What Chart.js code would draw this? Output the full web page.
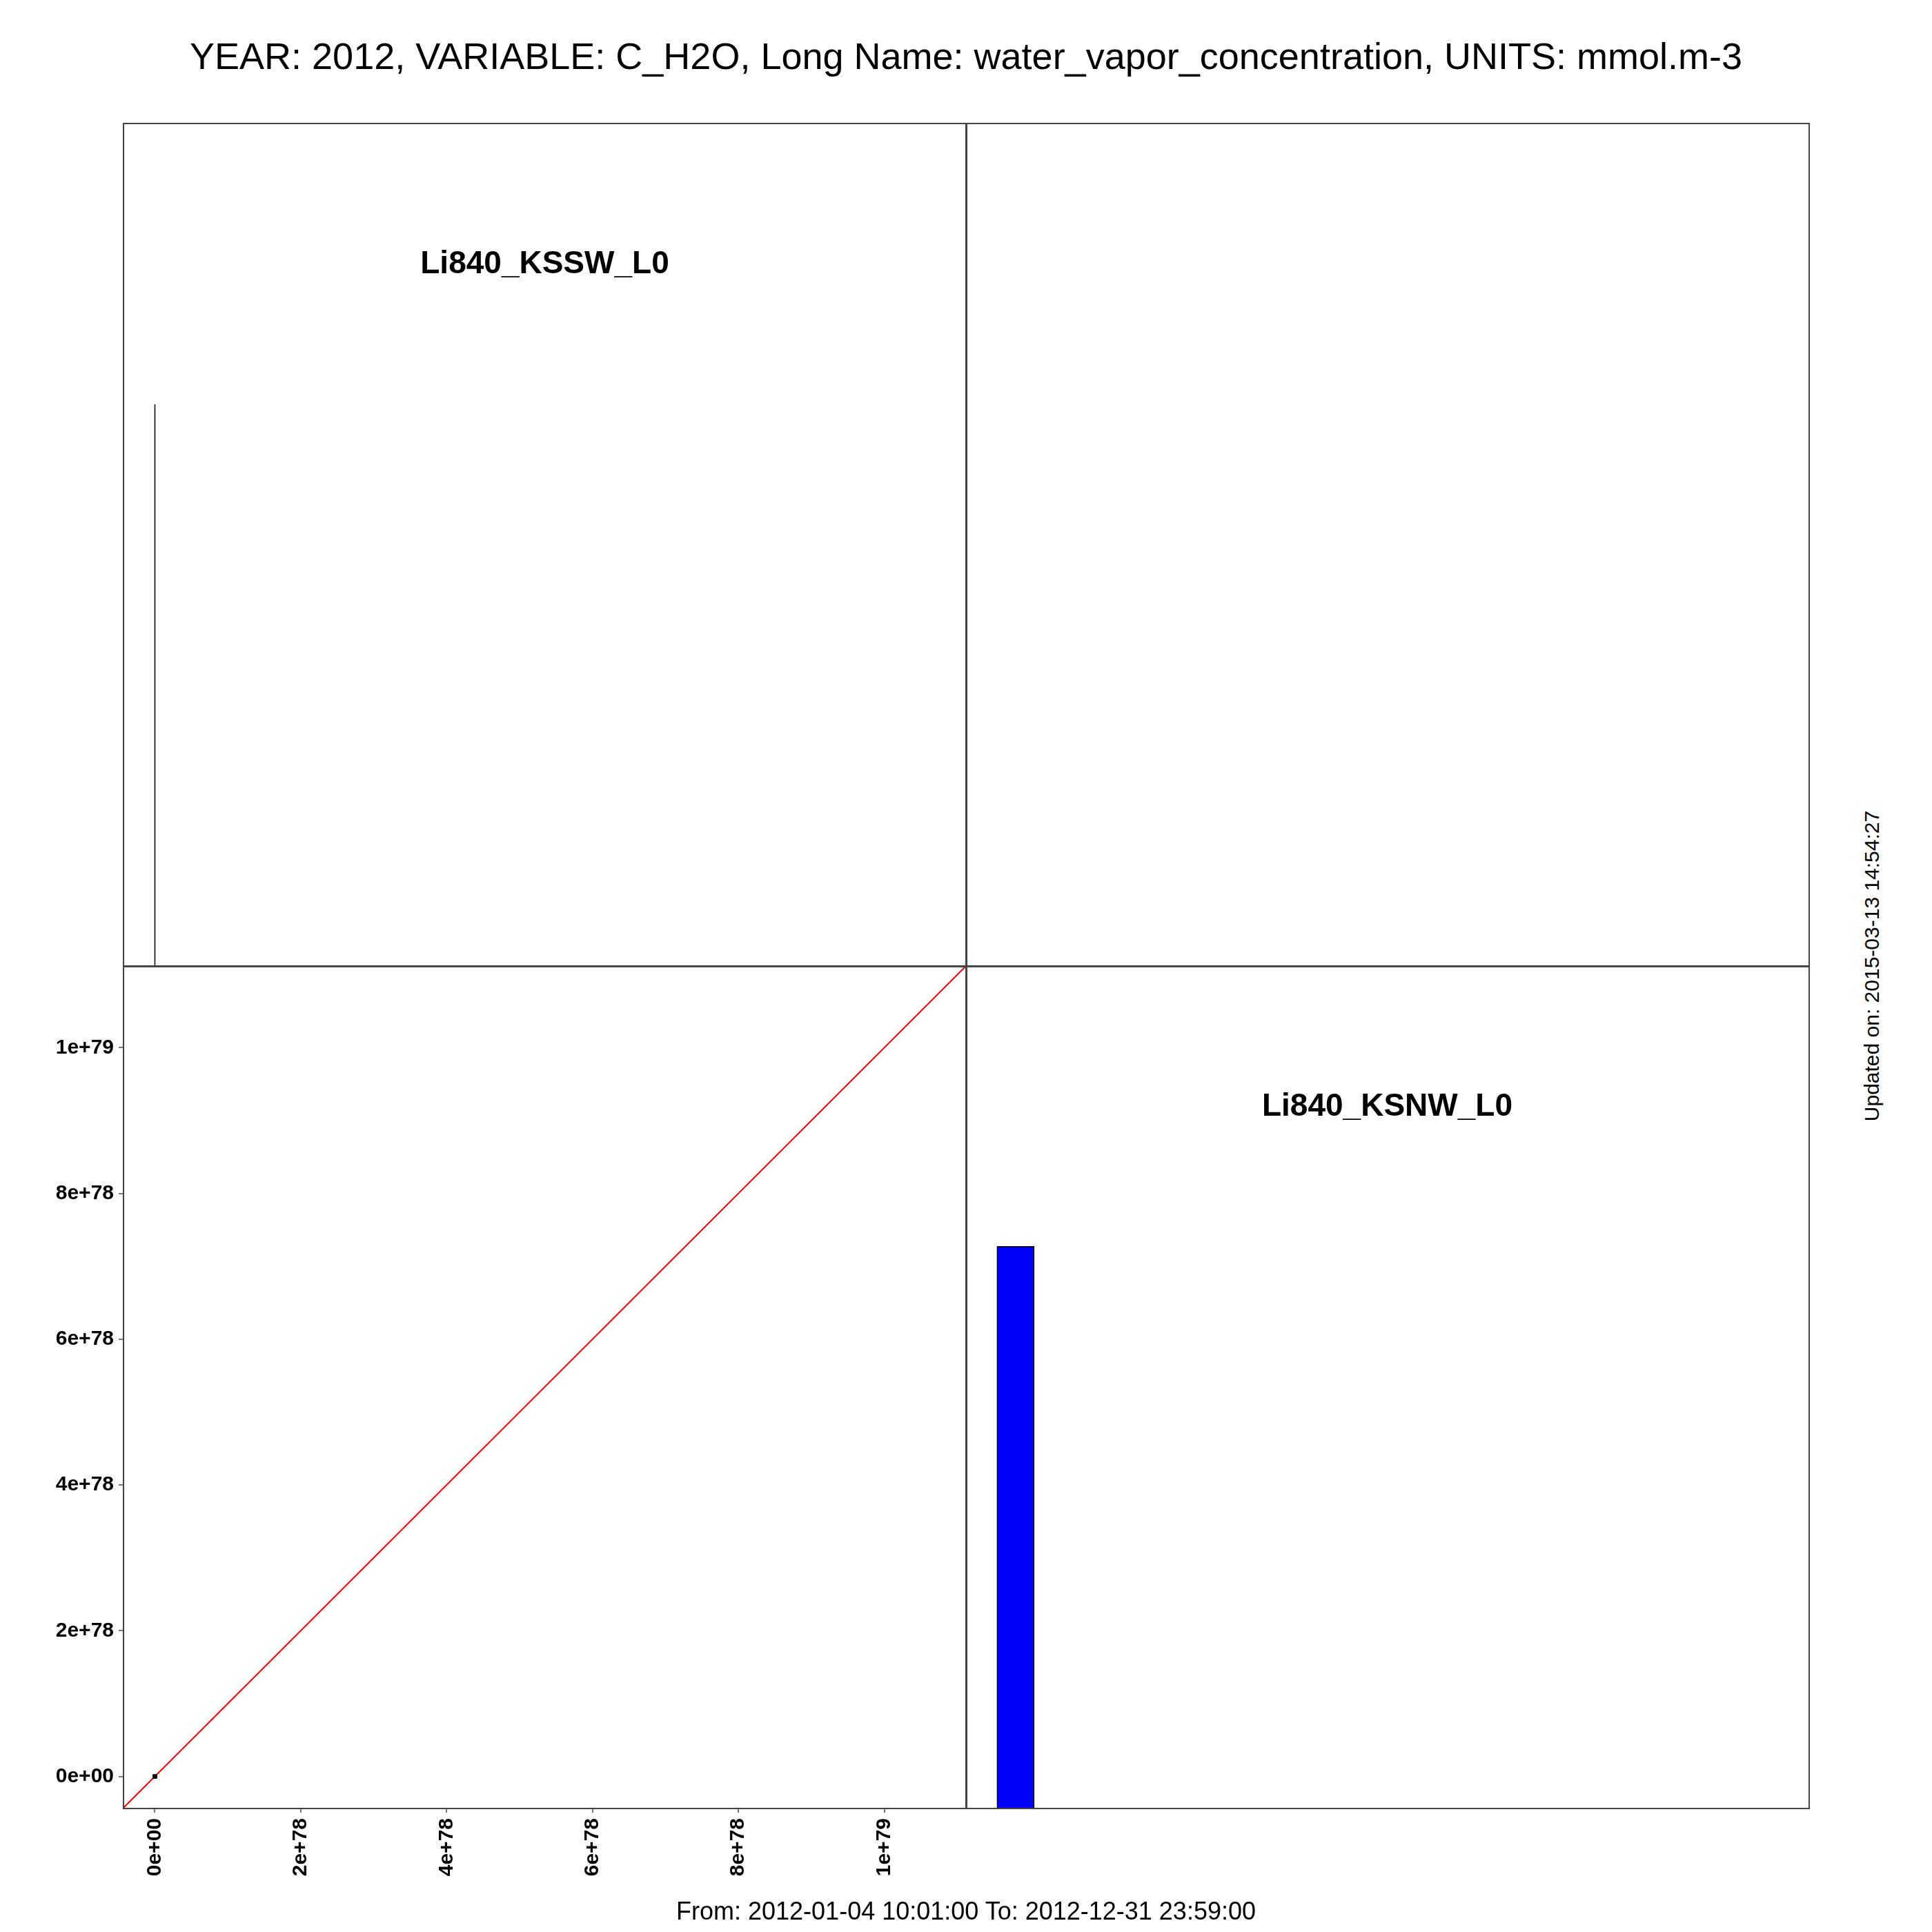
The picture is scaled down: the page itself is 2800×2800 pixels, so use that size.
<!DOCTYPE html>
<html>
<head>
<meta charset="utf-8">
<title>C_H2O 2012</title>
<script src="https://cdn.jsdelivr.net/npm/chart.js@4.4.1/dist/chart.umd.min.js"></script>
<style>
  html, body { margin: 0; padding: 0; background: #fff; }
  body { width: 2800px; height: 2800px; position: relative; overflow: hidden; font-family: "Liberation Sans", Arial, sans-serif; }
  canvas { position: absolute; }
  .frame { position: absolute; border: 2px solid #444; box-sizing: border-box; pointer-events: none; }
  .txt { position: absolute; white-space: nowrap; color: #000; line-height: 1; }
</style>
</head>
<body>

<div class="txt" style="left:0; width:2800px; top:54px; text-align:center; font-size:54px;">YEAR: 2012, VARIABLE: C_H2O, Long Name: water_vapor_concentration, UNITS: mmol.m-3</div>

<canvas id="panelTL" width="1221" height="1221" style="left:179px; top:179px;"></canvas>
<canvas id="panelBL" width="1400" height="1400" style="left:0px; top:1400px;"></canvas>
<canvas id="panelBR" width="1221" height="1220" style="left:1400px; top:1400px;"></canvas>

<div class="frame" style="left:178px; top:178px; width:1224px; height:1224px;"></div>
<div class="frame" style="left:1399px; top:178px; width:1224px; height:1224px;"></div>
<div class="frame" style="left:178px; top:1399px; width:1224px; height:1223px;"></div>
<div class="frame" style="left:1399px; top:1399px; width:1224px; height:1223px;"></div>

<div class="txt" style="left:179px; width:1221px; top:357px; text-align:center; font-size:46px; font-weight:bold;">Li840_KSSW_L0</div>
<div class="txt" style="left:1400px; width:1221px; top:1578px; text-align:center; font-size:46px; font-weight:bold;">Li840_KSNW_L0</div>

<div class="txt" style="left:0; width:2800px; top:2752px; text-align:center; font-size:36px;">From: 2012-01-04 10:01:00 To: 2012-12-31 23:59:00</div>
<div class="txt" style="left:2713px; top:1400px; font-size:30px; transform: translate(-50%, -50%) rotate(-90deg);">Updated on: 2015-03-13 14:54:27</div>

<script>
// scatter of the two instruments (only one valid pair)
const ksswValues = [0];
const ksnwValues = [0];

// 1:1 reference line, runs past both ends and gets clipped to the panel
const oneToOne = [-1e78, 1.2e79];

// axis ticks
const tickValues = [0, 2e78, 4e78, 6e78, 8e78, 1e79];
const tickLabels = ['0e+00', '2e+78', '4e+78', '6e+78', '8e+78', '1e+79'];

// histograms on the diagonal (bin edges, relative height)
const ksswBinEdges = [0, 0];
const ksswHeights = [1];
const ksnwBinEdges = [0, 5e77];
const ksnwHeights = [1];

const axisMin = -4.3e77;
const axisMax = 1.112e79;
const histMax = 1.5;

const fontFamily = '"Liberation Sans", Arial, sans-serif';

function histPath(edges, heights) {
    const pts = [];
    for (let i = 0; i < heights.length; i++) {
        pts.push({ x: edges[i], y: 0 });
        pts.push({ x: edges[i], y: heights[i] });
        pts.push({ x: edges[i + 1], y: heights[i] });
        pts.push({ x: edges[i + 1], y: 0 });
    }
    return pts;
}

function diagChart(id, edges, heights, fillColor) {
    const ctx = document.getElementById(id).getContext('2d');
    return new Chart(ctx, {
        type: 'line',
        data: {
            datasets: [{
                data: histPath(edges, heights),
                borderColor: '#000',
                borderWidth: 1.5,
                backgroundColor: fillColor,
                fill: fillColor ? 'origin' : false,
                pointRadius: 0,
                tension: 0
            }]
        },
        options: {
            responsive: false,
            animation: false,
            devicePixelRatio: 1,
            layout: { padding: 0, autoPadding: false },
            plugins: { legend: { display: false }, tooltip: { enabled: false } },
            scales: {
                x: { type: 'linear', min: axisMin, max: axisMax, display: false },
                y: { type: 'linear', min: 0, max: histMax, display: false }
            }
        }
    });
}

diagChart('panelTL', ksswBinEdges, ksswHeights, null);
diagChart('panelBR', ksnwBinEdges, ksnwHeights, '#0000ff');

const tickFont = { family: fontFamily, size: 30, weight: 'bold' };

new Chart(document.getElementById('panelBL').getContext('2d'), {
    type: 'scatter',
    data: {
        datasets: [
            {
                label: 'pairs',
                data: ksswValues.map((v, i) => ({ x: v, y: ksnwValues[i] })),
                pointStyle: 'rect',
                pointRadius: 4,
                backgroundColor: '#000',
                borderColor: '#000',
                order: 0
            },
            {
                label: '1:1',
                data: oneToOne.map(v => ({ x: v, y: v })),
                showLine: true,
                borderColor: '#ff0000',
                borderWidth: 2,
                pointRadius: 0,
                order: 1
            }
        ]
    },
    options: {
        responsive: false,
        animation: false,
        devicePixelRatio: 1,
        layout: { padding: 0, autoPadding: false },
        plugins: { legend: { display: false }, tooltip: { enabled: false } },
        scales: {
            x: {
                type: 'linear',
                position: 'bottom',
                min: axisMin,
                max: axisMax,
                afterBuildTicks: s => { s.ticks = tickValues.map(v => ({ value: v })); },
                afterFit: s => { s.height = 180; s.paddingLeft = 0; s.paddingRight = 0; },
                ticks: {
                    autoSkip: false,
                    minRotation: 90,
                    maxRotation: 90,
                    padding: 8,
                    color: '#000',
                    font: tickFont,
                    callback: v => tickLabels[tickValues.indexOf(v)]
                },
                grid: { drawOnChartArea: false, tickLength: 7, color: '#777', lineWidth: 2 },
                border: { display: false }
            },
            y: {
                type: 'linear',
                position: 'left',
                min: axisMin,
                max: axisMax,
                afterBuildTicks: s => { s.ticks = tickValues.map(v => ({ value: v })); },
                afterFit: s => { s.width = 179; s.paddingTop = 0; s.paddingBottom = 0; },
                ticks: {
                    autoSkip: false,
                    padding: 7,
                    color: '#000',
                    font: tickFont,
                    callback: v => tickLabels[tickValues.indexOf(v)]
                },
                grid: { drawOnChartArea: false, tickLength: 7, color: '#777', lineWidth: 2 },
                border: { display: false }
            }
        }
    }
});
</script>
</body>
</html>
